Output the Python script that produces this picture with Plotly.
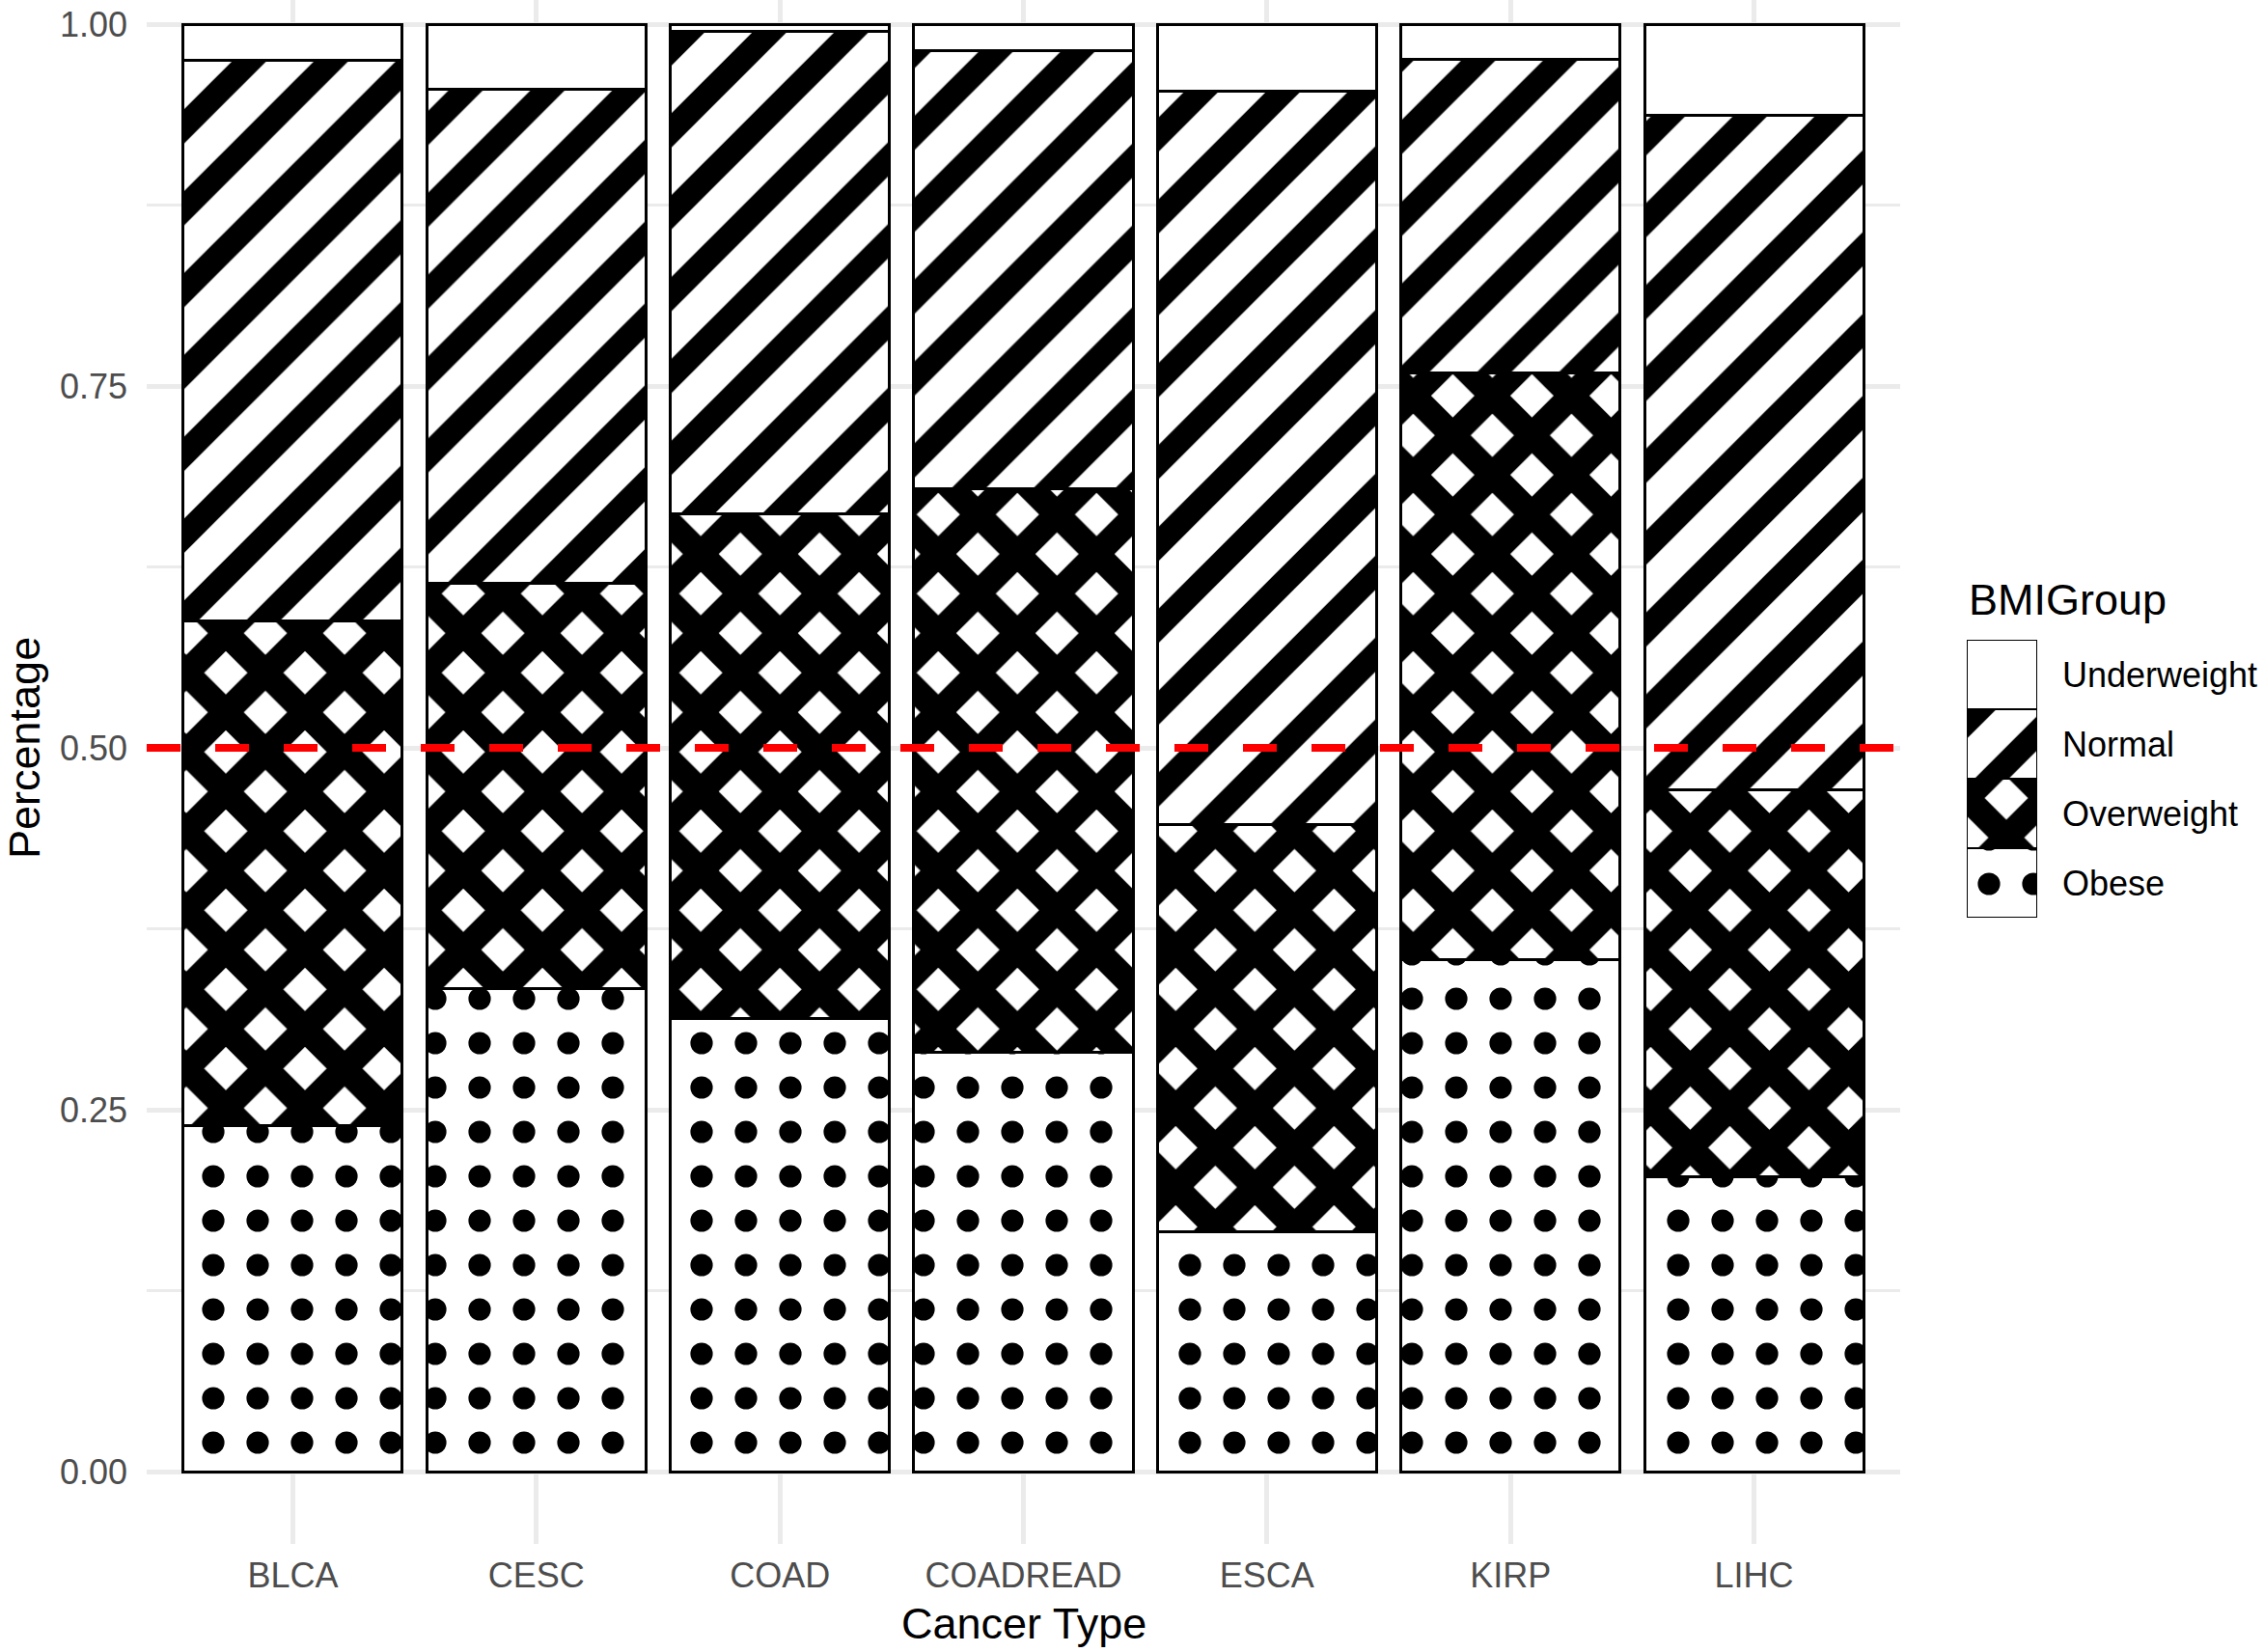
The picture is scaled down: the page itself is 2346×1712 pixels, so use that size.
import plotly.graph_objects as go

# ---------------- data ----------------
cancer_types = ["BLCA", "CESC", "COAD", "COADREAD", "ESCA", "KIRP", "LIHC"]
bmi_groups = ["Underweight", "Normal", "Overweight", "Obese"]

obese = [0.239, 0.334, 0.313, 0.290, 0.166, 0.354, 0.204]
overweight = [0.349, 0.280, 0.349, 0.389, 0.281, 0.405, 0.267]
normal = [0.387, 0.341, 0.333, 0.303, 0.507, 0.217, 0.466]
underweight = [0.025, 0.045, 0.005, 0.018, 0.046, 0.024, 0.063]

y_ticks = [0.0, 0.25, 0.5, 0.75, 1.0]
reference_line = 0.5

series = {
    "Obese": obese,
    "Overweight": overweight,
    "Normal": normal,
    "Underweight": underweight,
}

# ---------------- styles ----------------
patterns = {
    "Underweight": dict(shape=""),
    "Normal": dict(shape="/", size=60, solidity=0.42),
    "Overweight": dict(shape="x", size=58, solidity=0.7),
    "Obese": dict(shape=".", size=46, solidity=0.2),
}

FONT = "Liberation Sans, Arial, Helvetica, sans-serif"
W, H = 2346, 1712
L, R, T, B = 152, 0, 0, 112
plot_w = W - L - R
main_right = 1969
main_dom = (main_right - L) / plot_w

fig = go.Figure()

stack_order = ["Obese", "Overweight", "Normal", "Underweight"]
for g in stack_order:
    p = patterns[g]
    pat = dict(fgcolor="black", bgcolor="white", fillmode="replace")
    pat.update(p)
    fig.add_trace(go.Bar(
        x=cancer_types, y=series[g], name=g,
        width=0.9,
        marker=dict(color="white", line=dict(color="black", width=3), pattern=pat),
        showlegend=False,
        xaxis="x", yaxis="y",
    ))

# custom legend keys (stacked squares like ggplot)
for g in stack_order:
    p = patterns[g]
    pat = dict(fgcolor="black", bgcolor="white", fillmode="replace")
    pat.update(p)
    fig.add_trace(go.Bar(
        x=[0], y=[1], name=g, width=1,
        marker=dict(color="white", line=dict(color="black", width=1.5), pattern=pat),
        showlegend=False, hoverinfo="skip",
        xaxis="x2", yaxis="y2",
    ))

# legend geometry (px)
key_left, key_right = 2038, 2111
key_top, key_bottom = 663, 951
plot_h = H - T - B

annotations = []
for i, g in enumerate(stack_order):
    annotations.append(dict(
        text=g, xref="x2 domain", yref="y2", x=(2135 - key_left) / (key_right - key_left),
        y=i + 0.5, xanchor="left", yanchor="middle", showarrow=False,
        font=dict(family=FONT, size=36, color="black"),
    ))
annotations.append(dict(
    text="BMIGroup", xref="paper", yref="paper",
    x=(2038 - L) / plot_w, y=(plot_h - 621) / plot_h,
    xanchor="left", yanchor="middle", showarrow=False,
    font=dict(family=FONT, size=45, color="black"),
))
annotations.append(dict(
    text="Percentage", xref="paper", yref="paper", textangle=-90,
    x=(25 - L) / plot_w, y=(plot_h - 775) / plot_h,
    xanchor="center", yanchor="middle", showarrow=False,
    font=dict(family=FONT, size=45, color="black"),
))
annotations.append(dict(
    text="Cancer Type", xref="paper", yref="paper",
    x=main_dom / 2, y=(plot_h - 1682) / plot_h,
    xanchor="center", yanchor="middle", showarrow=False,
    font=dict(family=FONT, size=45, color="black"),
))

fig.add_shape(
    type="line", xref="x domain", yref="y", x0=0, x1=1,
    y0=reference_line, y1=reference_line,
    line=dict(color="#FF0000", width=8, dash="35px,36px"), layer="above",
)

ymin = -0.05
ymax = ymin + plot_h / 1500

fig.update_layout(
    width=W, height=H,
    margin=dict(l=L, r=R, t=T, b=B),
    paper_bgcolor="white", plot_bgcolor="white",
    barmode="stack", bargap=0.1,
    font=dict(family=FONT, size=36, color="#4D4D4D"),
    showlegend=False,
    annotations=annotations,
    xaxis=dict(
        domain=[0, main_dom], range=[-0.6, 6.6],
        categoryorder="array", categoryarray=cancer_types,
        showgrid=True, gridcolor="#EBEBEB", gridwidth=5,
        showline=False, zeroline=False, ticks="",
        tickfont=dict(family=FONT, size=36, color="#4D4D4D"),
        ticklabelstandoff=8,
    ),
    yaxis=dict(
        range=[ymin, ymax],
        tickvals=y_ticks, tickformat=".2f",
        showgrid=True, gridcolor="#EBEBEB", gridwidth=5,
        minor=dict(dtick=0.125, tick0=0, showgrid=True, gridcolor="#EBEBEB", gridwidth=2.5),
        showline=False, zeroline=False, ticks="",
        tickfont=dict(family=FONT, size=36, color="#4D4D4D"),
        ticklabelstandoff=19,
    ),
    xaxis2=dict(
        domain=[(key_left - L) / plot_w, (key_right - L) / plot_w],
        range=[-0.5, 0.5], visible=False, anchor="y2", fixedrange=True,
    ),
    yaxis2=dict(
        domain=[(plot_h - key_bottom) / plot_h, (plot_h - key_top) / plot_h],
        range=[0, 4], visible=False, anchor="x2", fixedrange=True,
    ),
)

fig.write_html(
    "out.html",
    config={"displayModeBar": False},
    post_script="document.body.style.margin='0';document.body.style.overflow='hidden';",
)
